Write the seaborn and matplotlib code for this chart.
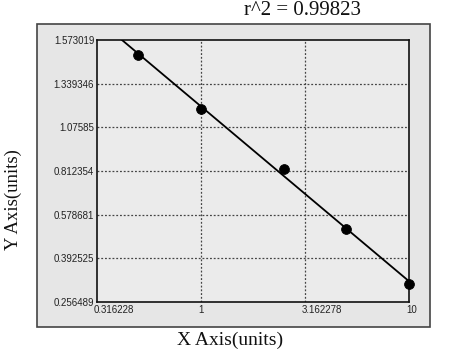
import numpy as np
import pandas as pd
import matplotlib
matplotlib.use("Agg")
import matplotlib.pyplot as plt
import matplotlib.transforms as mtrans
from matplotlib.patches import Rectangle
import seaborn as sns

# ---- data ----
x_values = [0.5, 1.0, 2.5, 5.0, 10.0]
y_values = [1.492, 1.189, 0.824, 0.516, 0.313]
x_ticks = [0.316228, 1, 3.162278, 10]
x_tick_labels = ["0.316228", "1", "3.162278", "10"]
y_ticks = [0.256489, 0.392525, 0.578681, 0.812354, 1.07585, 1.339346, 1.573019]
y_tick_labels = ["0.256489", "0.392525", "0.578681", "0.812354", "1.07585", "1.339346", "1.573019"]
title_text = "r^2 = 0.99823"
x_label = "X Axis(units)"
y_label = "Y Axis(units)"

sns.set_theme(style="white")
plt.rcParams["font.family"] = ["Liberation Sans", "DejaVu Sans"]

yt = np.array(y_ticks, dtype=float)
idx = np.arange(len(yt), dtype=float)


def fwd(v):
    v = np.asarray(v, dtype=float)
    out = np.interp(v, yt, idx)
    out = np.where(v < yt[0], (v - yt[0]) / (yt[1] - yt[0]), out)
    out = np.where(v > yt[-1], idx[-1] + (v - yt[-1]) / (yt[-1] - yt[-2]), out)
    return out


def inv(p):
    p = np.asarray(p, dtype=float)
    out = np.interp(p, idx, yt)
    out = np.where(p < 0, yt[0] + p * (yt[1] - yt[0]), out)
    out = np.where(p > idx[-1], yt[-1] + (p - idx[-1]) * (yt[-1] - yt[-2]), out)
    return out


W, H = 454, 351
fig = plt.figure(figsize=(W / 100, H / 100), dpi=100)
fig.patch.set_facecolor("white")

# outer gray panel
fig.patches.append(Rectangle((37 / W, 1 - 327 / H), 393 / W, 303 / H,
                             transform=fig.transFigure, facecolor="#e6e6e6",
                             edgecolor="#444444", linewidth=1.2, zorder=-5))

ax = fig.add_axes([97 / W, 1 - 302 / H, 312 / W, 262 / H])
ax.set_zorder(2)
ax.set_facecolor("#ebebeb")
ax.set_xscale("log")
ax.set_yscale("function", functions=(fwd, inv))

# regression line in the transformed space
u = np.log10(x_values)
v = fwd(y_values)
a, b = np.polyfit(u, v, 1)
ug = np.linspace(np.log10(x_ticks[0]), np.log10(x_ticks[-1]), 200)
line_df = pd.DataFrame({"x": 10 ** ug, "y": inv(a * ug + b)})
pts_df = pd.DataFrame({"x": x_values, "y": y_values})

sns.lineplot(data=line_df, x="x", y="y", ax=ax, color="black", linewidth=1.3, zorder=3)
sns.scatterplot(data=pts_df, x="x", y="y", ax=ax, color="black", s=50,
                edgecolor="black", zorder=4, clip_on=False)

ax.set_xlim(x_ticks[0], x_ticks[-1])
ax.set_ylim(y_ticks[0], y_ticks[-1])
ax.set_xticks(x_ticks)
ax.set_xticklabels(x_tick_labels)
ax.xaxis.set_minor_locator(matplotlib.ticker.NullLocator())
ax.set_yticks(y_ticks)
ax.set_yticklabels(y_tick_labels)
ax.yaxis.set_minor_locator(matplotlib.ticker.NullLocator())
ax.tick_params(axis="both", length=0, labelsize=7, colors="#222222", pad=2)
offset = mtrans.ScaledTranslation(-3 / 100, 0, fig.dpi_scale_trans)
for lab in ax.get_xticklabels():
    lab.set_horizontalalignment("left")
    lab.set_transform(lab.get_transform() + offset)

# dotted grid at interior ticks
for xv in x_ticks[1:-1]:
    ax.axvline(xv, color="#444444", linestyle=(0, (1.5, 1.5)), linewidth=0.9, zorder=1)
for yv in y_ticks[1:-1]:
    ax.axhline(yv, color="#444444", linestyle=(0, (1.5, 1.5)), linewidth=0.9, zorder=1)

for s in ax.spines.values():
    s.set_visible(True)
    s.set_color("#111111")
    s.set_linewidth(1.2)
ax.set_xlabel("")
ax.set_ylabel("")

serif = ["Liberation Serif", "DejaVu Serif"]
fig.text(230 / W, 1 - 340 / H, x_label, ha="center", va="center",
         fontsize=14, family=serif, color="#111111")
fig.text(13 / W, 1 - 200 / H, y_label, ha="center", va="center", rotation=90,
         fontsize=13.5, family=serif, color="#111111")
fig.text(303 / W, 1 - 1 / H, title_text, ha="center", va="top",
         fontsize=15, family=serif, color="#111111")

fig.savefig("out.png", dpi=100, facecolor="white")
